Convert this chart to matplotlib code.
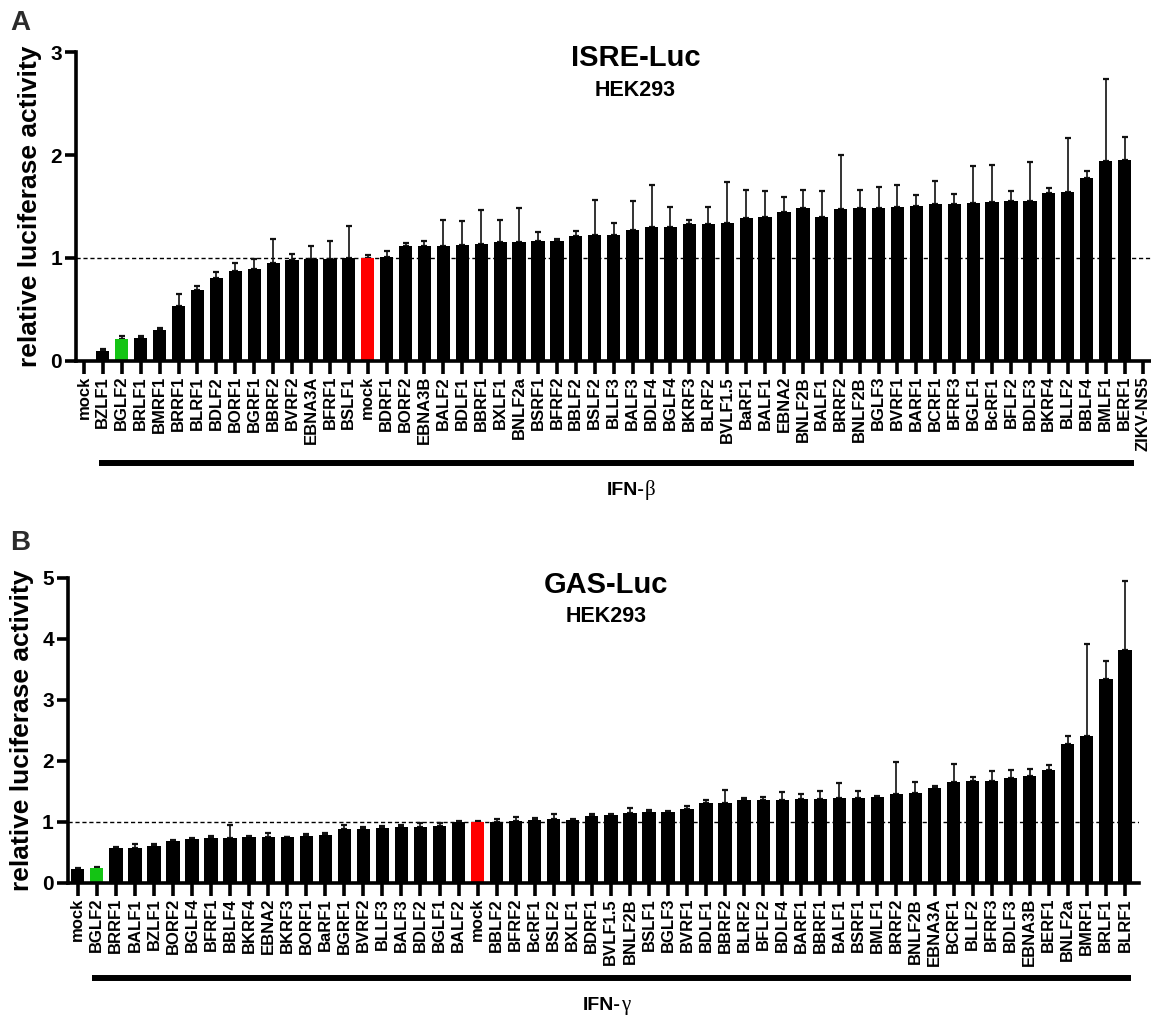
import numpy as np
import matplotlib
matplotlib.use("Agg")
import matplotlib.pyplot as plt
from matplotlib.transforms import blended_transform_factory

plt.rcParams['font.family'] = ['Liberation Sans', 'DejaVu Sans']
plt.rcParams['font.weight'] = 'bold'

# ---------------- data: panel A (ISRE-Luc, IFN-beta) ----------------
top_labels = ["mock", "BZLF1", "BGLF2", "BRLF1", "BMRF1", "BRRF1", "BLRF1", "BDLF2",
              "BORF1", "BGRF1", "BBRF2", "BVRF2", "EBNA3A", "BFRF1", "BSLF1", "mock",
              "BDRF1", "BORF2", "EBNA3B", "BALF2", "BDLF1", "BBRF1", "BXLF1", "BNLF2a",
              "BSRF1", "BFRF2", "BBLF2", "BSLF2", "BLLF3", "BALF3", "BDLF4", "BGLF4",
              "BKRF3", "BLRF2", "BVLF1.5", "BaRF1", "BALF1", "EBNA2", "BNLF2B", "BALF1",
              "BRRF2", "BNLF2B", "BGLF3", "BVRF1", "BARF1", "BCRF1", "BFRF3", "BGLF1",
              "BcRF1", "BFLF2", "BDLF3", "BKRF4", "BLLF2", "BBLF4", "BMLF1", "BERF1",
              "ZIKV-NS5"]
top_values = [0.0, 0.09, 0.215, 0.22, 0.30, 0.53, 0.69, 0.80,
              0.875, 0.89, 0.95, 0.975, 0.99, 0.985, 1.0, 1.0,
              1.013, 1.115, 1.12, 1.12, 1.13, 1.14, 1.15, 1.157,
              1.16, 1.164, 1.213, 1.226, 1.226, 1.269, 1.298, 1.298,
              1.328, 1.331, 1.344, 1.384, 1.40, 1.443, 1.482, 1.40,
              1.472, 1.482, 1.485, 1.498, 1.502, 1.521, 1.528, 1.534,
              1.548, 1.551, 1.554, 1.63, 1.643, 1.777, 1.938, 1.954,
              0.0]
top_errors = [0.0, 0.026, 0.023, 0.02, 0.018, 0.12, 0.04, 0.06,
              0.075, 0.098, 0.23, 0.066, 0.128, 0.18, 0.31, 0.033,
              0.05, 0.033, 0.04, 0.245, 0.226, 0.325, 0.223, 0.325,
              0.09, 0.016, 0.046, 0.34, 0.115, 0.288, 0.41, 0.20,
              0.036, 0.164, 0.394, 0.275, 0.246, 0.15, 0.18, 0.249,
              0.528, 0.18, 0.204, 0.21, 0.111, 0.227, 0.095, 0.361,
              0.36, 0.098, 0.377, 0.049, 0.521, 0.066, 0.803, 0.22,
              0.0]
top_green = 2
top_red = 15

# ---------------- data: panel B (GAS-Luc, IFN-gamma) ----------------
bot_labels = ["mock", "BGLF2", "BRRF1", "BALF1", "BZLF1", "BORF2", "BGLF4", "BFRF1",
              "BBLF4", "BKRF4", "EBNA2", "BKRF3", "BORF1", "BaRF1", "BGRF1", "BVRF2",
              "BLLF3", "BALF3", "BDLF2", "BGLF1", "BALF2", "mock", "BBLF2", "BFRF2",
              "BcRF1", "BSLF2", "BXLF1", "BDRF1", "BVLF1.5", "BNLF2B", "BSLF1", "BGLF3",
              "BVRF1", "BDLF1", "BBRF2", "BLRF2", "BFLF2", "BDLF4", "BARF1", "BBRF1",
              "BALF1", "BSRF1", "BMLF1", "BRRF2", "BNLF2B", "EBNA3A", "BCRF1", "BLLF2",
              "BFRF3", "BDLF3", "EBNA3B", "BERF1", "BNLF2a", "BMRF1", "BRLF1", "BLRF1"]
bot_values = [0.224, 0.246, 0.568, 0.568, 0.607, 0.683, 0.721, 0.727,
              0.738, 0.754, 0.743, 0.749, 0.765, 0.776, 0.874, 0.885,
              0.902, 0.918, 0.918, 0.934, 0.989, 1.0, 0.995, 1.005,
              1.022, 1.044, 1.033, 1.098, 1.109, 1.148, 1.153, 1.153,
              1.202, 1.30, 1.30, 1.35, 1.36, 1.361, 1.372, 1.377,
              1.383, 1.388, 1.404, 1.454, 1.464, 1.557, 1.65, 1.672,
              1.672, 1.721, 1.743, 1.847, 2.273, 2.404, 3.344, 3.814]
bot_errors = [0.01, 0.011, 0.012, 0.06, 0.021, 0.011, 0.011, 0.043,
              0.20, 0.006, 0.066, 0.005, 0.027, 0.033, 0.066, 0.033,
              0.027, 0.03, 0.055, 0.04, 0.022, 0.01, 0.055, 0.07,
              0.033, 0.077, 0.005, 0.03, 0.02, 0.07, 0.044, 0.02,
              0.055, 0.05, 0.22, 0.04, 0.04, 0.13, 0.076, 0.126,
              0.245, 0.115, 0.022, 0.52, 0.18, 0.028, 0.29, 0.06,
              0.164, 0.126, 0.115, 0.076, 0.131, 1.514, 0.295, 1.131]
bot_green = 1
bot_red = 21

W, H = 1151, 1019
fig = plt.figure(figsize=(W / 100, H / 100), dpi=100)


def panel(rect_px, labels, values, errors, green, red, ymax, xlim,
          title, subtitle, title_xy, sub_xy, letter, letter_xy,
          bar_range, bar_y, greek, group_xy):
    l, r, b, t = rect_px
    ax = fig.add_axes([l / W, 1 - b / H, (r - l) / W, (b - t) / H])
    x = np.arange(len(labels))
    vals = np.array(values, dtype=float)
    errs = np.array(errors, dtype=float)
    colors = ['black'] * len(labels)
    colors[green] = '#14c414'
    colors[red] = '#ff0000'
    ax.axhline(1.0, color='black', lw=1.0, ls=(0, (3, 2)), zorder=0.5)
    ax.bar(x, vals, width=0.7, color=colors, zorder=2)
    m = errs > 0
    ax.errorbar(x[m], vals[m], yerr=[np.zeros(m.sum()), errs[m]], fmt='none',
                ecolor='#111111', elinewidth=1.2, capsize=2.4, capthick=1.6, zorder=1.5)
    ax.set_xlim(*xlim)
    ax.set_ylim(0, ymax)
    ax.set_xticks(x)
    ax.set_xticklabels(labels, rotation=90, fontsize=12, fontweight='bold')
    ax.set_yticks(np.arange(0, ymax + 1))
    ax.set_yticklabels([str(v) for v in range(0, ymax + 1)], fontsize=15, fontweight='bold')
    for s in ('top', 'right'):
        ax.spines[s].set_visible(False)
    for s in ('left', 'bottom'):
        ax.spines[s].set_linewidth(2.6)
    ax.tick_params(axis='x', width=2.6, length=9, pad=2)
    ax.tick_params(axis='y', width=2.6, length=8, pad=2)
    ax.set_ylabel('relative luciferase activity', fontsize=19, fontweight='bold', labelpad=6)
    fig.text(title_xy[0] / W, 1 - title_xy[1] / H, title, fontsize=21, fontweight='bold',
             ha='center', va='center')
    fig.text(sub_xy[0] / W, 1 - sub_xy[1] / H, subtitle, fontsize=15.5, fontweight='bold',
             ha='center', va='center')
    fig.text(letter_xy[0] / W, 1 - letter_xy[1] / H, letter, fontsize=20, fontweight='bold',
             color='#2b2b2b', ha='left', va='center')
    tr = blended_transform_factory(ax.transData, fig.transFigure)
    ax.plot(bar_range, [1 - bar_y / H] * 2, transform=tr, color='black', lw=4.3,
            clip_on=False, solid_capstyle='butt')
    gx, gy = group_xy
    fig.text(gx / W, 1 - gy / H, 'IFN-', fontsize=14, fontweight='bold',
             ha='right', va='baseline')
    fig.text(gx / W, 1 - gy / H, greek, fontsize=15, fontweight='normal',
             family=['Liberation Serif', 'DejaVu Serif'], ha='left', va='baseline')
    return ax


panel((76, 1151, 360.7, 52.3), top_labels, top_values, top_errors, top_green, top_red,
      3, (-0.42, 56.4), 'ISRE-Luc', 'HEK293', (636, 58), (635, 90), 'A', (10, 23),
      (0.78, 55.5), 463, 'β', (645, 495))

panel((67.7, 1139, 882.7, 577.7), bot_labels, bot_values, bot_errors, bot_green, bot_red,
      5, (-0.53, 55.74), 'GAS-Luc', 'HEK293', (606, 585), (606, 616), 'B', (10, 543),
      (0.75, 55.3), 977.5, 'γ', (621, 1010))

fig.savefig('out.png', dpi=100)
